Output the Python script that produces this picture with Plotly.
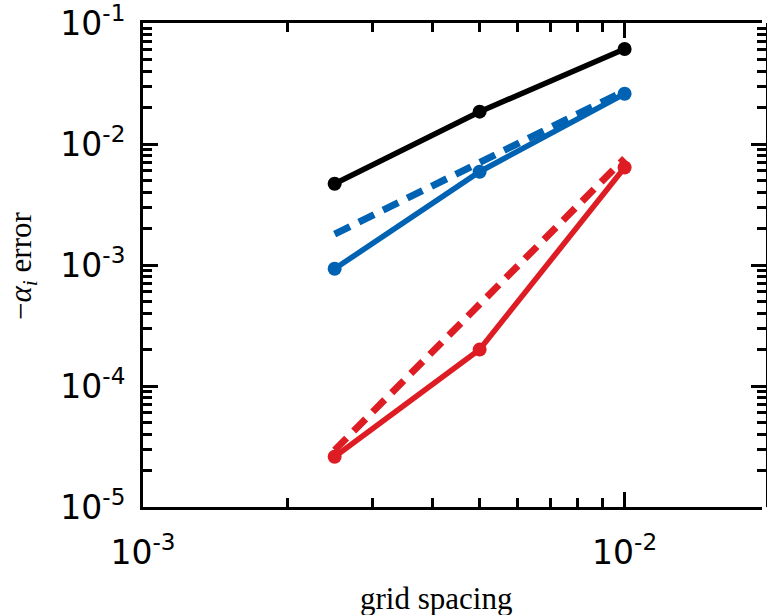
import plotly.graph_objects as go

# grid spacing values
h = [2.5e-3, 5e-3, 1e-2]
h_ref = [2.5e-3, 1e-2]

# error series
black_err = [4.7e-3, 1.85e-2, 6.1e-2]
blue_err = [9.3e-4, 5.9e-3, 2.6e-2]
red_err = [2.6e-5, 2.0e-4, 6.4e-3]
blue_ref = [1.8e-3, 2.75e-2]
red_ref = [2.95e-5, 7.6e-3]

xtick_vals = [1e-3, 1e-2]
xtick_text = ["10<sup>-3</sup>", "10<sup>-2</sup>"]
ytick_vals = [1e-5, 1e-4, 1e-3, 1e-2, 1e-1]
ytick_text = ["10<sup>-5</sup>", "10<sup>-4</sup>", "10<sup>-3</sup>", "10<sup>-2</sup>", "10<sup>-1</sup>"]

BLACK = "#000000"
BLUE = "rgb(0,98,178)"
RED = "rgb(222,28,36)"

xminor = [m * 10 ** e for e in (-3, -2) for m in range(2, 10)]
yminor = [m * 10 ** e for e in (-5, -4, -3, -2) for m in range(2, 10)]

fig = go.Figure()
fig.add_trace(go.Scatter(x=h_ref, y=blue_ref, mode="lines",
                         line=dict(color=BLUE, width=7, dash="17px,10px")))
fig.add_trace(go.Scatter(x=h_ref, y=red_ref, mode="lines", yaxis="y2",
                         line=dict(color=RED, width=7, dash="17px,10px")))
for y, c in ((black_err, BLACK), (blue_err, BLUE), (red_err, RED)):
    fig.add_trace(go.Scatter(x=h, y=y, mode="lines+markers",
                             line=dict(color=c, width=5.5),
                             marker=dict(color=c, size=14)))

axfont = dict(family="DejaVu Sans", size=33, color="black")
yr = [-5, -1]
xr = [-3, -3 + 624 / 485.5]

fig.update_layout(
    width=767, height=615,
    margin=dict(l=143, r=0, t=23, b=108),
    plot_bgcolor="white", paper_bgcolor="white",
    showlegend=False,
    xaxis=dict(type="log", range=xr, tickvals=xtick_vals, ticktext=xtick_text,
               ticks="inside", ticklen=15, tickwidth=2.5, tickcolor="black",
               showline=True, linewidth=3, linecolor="black", mirror="ticks",
               showgrid=False, zeroline=False, tickfont=axfont,
               ticklabelstandoff=14, ticklabeloverflow="allow",
               minor=dict(tickvals=xminor, ticks="inside", ticklen=9,
                          tickwidth=2.5, tickcolor="black", showgrid=False)),
    yaxis=dict(type="log", range=yr, tickvals=ytick_vals, ticktext=ytick_text,
               ticks="inside", ticklen=15, tickwidth=2.5, tickcolor="black",
               showline=True, linewidth=3, linecolor="black",
               showgrid=False, zeroline=False, tickfont=axfont,
               ticklabelstandoff=8, ticklabeloverflow="allow",
               minor=dict(tickvals=yminor, ticks="inside", ticklen=9,
                          tickwidth=2.5, tickcolor="black", showgrid=False)),
    yaxis2=dict(type="log", range=yr, overlaying="y", side="right",
                anchor="free", position=1, shift=5,
                tickvals=ytick_vals, showticklabels=False,
                ticks="inside", ticklen=15, tickwidth=2.5, tickcolor="black",
                showline=True, linewidth=3, linecolor="black",
                showgrid=False, zeroline=False,
                minor=dict(tickvals=yminor, ticks="inside", ticklen=9,
                           tickwidth=2.5, tickcolor="black", showgrid=False)),
    annotations=[
        dict(text="grid spacing", xref="paper", yref="paper",
             x=(438 - 143) / 624, y=(507 - 598) / 484, showarrow=False,
             font=dict(family="Liberation Serif", size=31, color="black"),
             xanchor="center", yanchor="middle"),
        dict(text="\u2212<i>\u03b1<sub>i</sub></i> error", xref="paper", yref="paper",
             x=(22 - 143) / 624, y=(507 - 266) / 484, showarrow=False,
             textangle=-90,
             font=dict(family="Liberation Serif", size=31, color="black"),
             xanchor="center", yanchor="middle"),
    ],
)

fig.write_html("out.html")
